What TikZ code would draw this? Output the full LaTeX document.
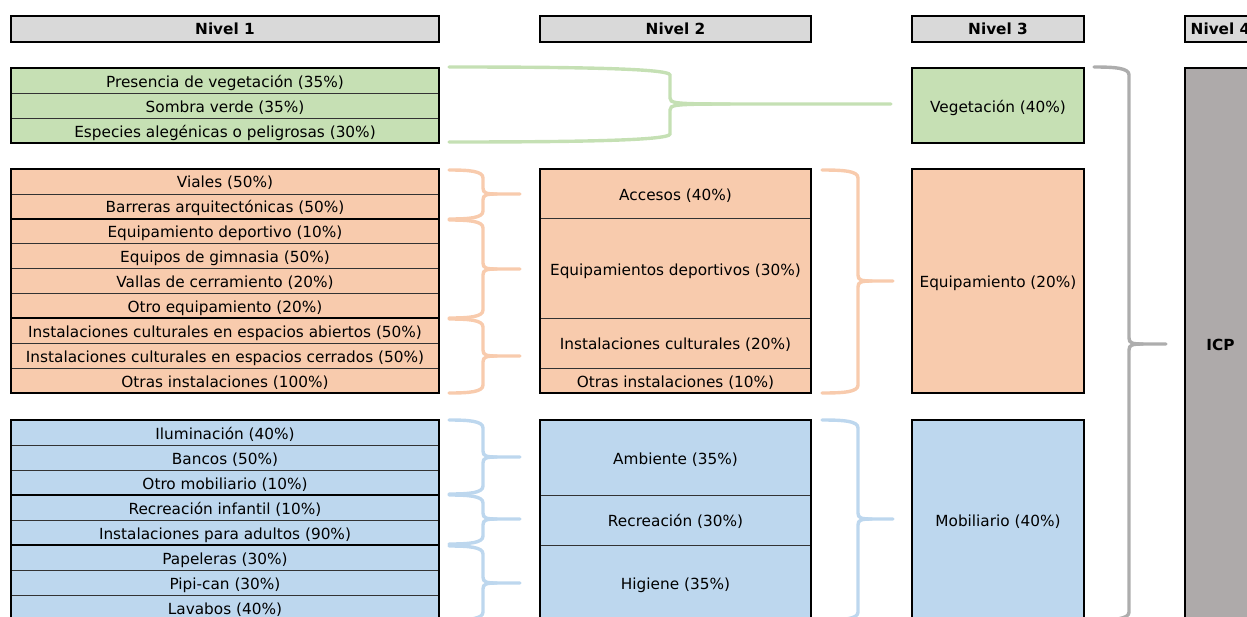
\documentclass[tikz,border=0pt]{standalone}
\usepackage{fontspec}
\setmainfont{DejaVu Sans}
\definecolor{gfill}{HTML}{C6E0B4}
\definecolor{ofill}{HTML}{F8CBAD}
\definecolor{bfill}{HTML}{BDD7EE}
\definecolor{hfill}{HTML}{D9D9D9}
\definecolor{ifill}{HTML}{AEAAAA}
\definecolor{gbr}{HTML}{C5E0B4}
\definecolor{obr}{HTML}{F8CBAD}
\definecolor{bbr}{HTML}{BDD7EE}
\definecolor{kbr}{HTML}{ADADAD}
% x0, xv, xt, ytop, ymid, ybot, colour, tip length, arm length
\newcommand{\hbrace}[9]{%
\draw[bracepath,#7] (#1,#4) .. controls ({#2-#9},#4) and (#2,{#4+1}) .. (#2,{#4+8}) -- (#2,{#5-6}) .. controls (#2,{#5-1}) and ({#2+3},#5) .. ({#2+#8},#5) -- (#3,#5);
\draw[bracepath,#7] (#1,#6) .. controls ({#2-#9},#6) and (#2,{#6-1}) .. (#2,{#6-8}) -- (#2,{#5+6}) .. controls (#2,{#5+1}) and ({#2+3},#5) .. ({#2+#8},#5);
}
\tikzset{
  txt/.style={font=\fontsize{15.3}{18}\selectfont, text=black, text height=13pt, text depth=0pt},
  cell/.style={txt, draw=black!80, line width=0.8pt, anchor=north west, inner sep=0pt, outer sep=0pt},
  wide/.style={cell, minimum width=428pt},
  mid/.style={cell, minimum width=271pt},
  lvl3/.style={cell, minimum width=172pt, draw=black, line width=2pt},
  grp/.style={draw=black, line width=2pt},
  hdr/.style={draw=black, line width=2pt, fill=hfill, anchor=north west, inner sep=0pt, outer sep=0pt,
     minimum height=26pt, font=\bfseries\fontsize{15.3}{18}\selectfont},
  bracepath/.style={line width=3.4pt, line cap=round}
}
\begin{document}
\begin{tikzpicture}[x=1pt,y=-1pt]
\useasboundingbox (0,0) rectangle (1247,616);
\clip (0,0) rectangle (1247,616);
% headers
\node[hdr, minimum width=428pt] (h1) at (11,16) {Nivel 1};
\node[hdr, minimum width=271pt] (h2) at (540,16) {Nivel 2};
\node[hdr, minimum width=172pt] (h3) at (912,16) {Nivel 3};
\node[hdr, minimum width=71pt] (h4) at (1185,16) {Nivel 4};
% level 1 green
\node[wide, fill=gfill, minimum height=25pt] (g1) at (11,68) {Presencia de vegetación (35\%)};
\node[wide, fill=gfill, minimum height=25pt] (g2) at (11,93) {Sombra verde (35\%)};
\node[wide, fill=gfill, minimum height=25pt] (g3) at (11,118) {Especies alegénicas o peligrosas (30\%)};
\draw[grp] (g1.north west) rectangle (g3.south east);
% level 1 orange
\node[wide, fill=ofill, minimum height=24.9pt] (o1) at (11,169) {Viales (50\%)};
\node[wide, fill=ofill, minimum height=24.9pt] (o2) at (11,193.9) {Barreras arquitectónicas (50\%)};
\node[wide, fill=ofill, minimum height=24.9pt] (o3) at (11,218.8) {Equipamiento deportivo (10\%)};
\node[wide, fill=ofill, minimum height=24.9pt] (o4) at (11,243.7) {Equipos de gimnasia (50\%)};
\node[wide, fill=ofill, minimum height=24.9pt] (o5) at (11,268.6) {Vallas de cerramiento (20\%)};
\node[wide, fill=ofill, minimum height=24.9pt] (o6) at (11,293.5) {Otro equipamiento (20\%)};
\node[wide, fill=ofill, minimum height=24.9pt] (o7) at (11,318.4) {Instalaciones culturales en espacios abiertos (50\%)};
\node[wide, fill=ofill, minimum height=24.9pt] (o8) at (11,343.3) {Instalaciones culturales en espacios cerrados (50\%)};
\node[wide, fill=ofill, minimum height=24.9pt] (o9) at (11,368.2) {Otras instalaciones (100\%)};
\draw[grp] (o1.north west) rectangle (o2.south east);
\draw[grp] (o3.north west) rectangle (o6.south east);
\draw[grp] (o7.north west) rectangle (o9.south east);
% level 1 blue
\node[wide, fill=bfill, minimum height=25pt] (b1) at (11,420) {Iluminación (40\%)};
\node[wide, fill=bfill, minimum height=25pt] (b2) at (11,445) {Bancos (50\%)};
\node[wide, fill=bfill, minimum height=25pt] (b3) at (11,470) {Otro mobiliario (10\%)};
\node[wide, fill=bfill, minimum height=25pt] (b4) at (11,495) {Recreación infantil (10\%)};
\node[wide, fill=bfill, minimum height=25pt] (b5) at (11,520) {Instalaciones para adultos (90\%)};
\node[wide, fill=bfill, minimum height=25pt] (b6) at (11,545) {Papeleras (30\%)};
\node[wide, fill=bfill, minimum height=25pt] (b7) at (11,570) {Pipi-can (30\%)};
\node[wide, fill=bfill, minimum height=25pt] (b8) at (11,595) {Lavabos (40\%)};
\draw[grp] (b1.north west) rectangle (b3.south east);
\draw[grp] (b4.north west) rectangle (b5.south east);
\draw[grp] (b6.north west) rectangle (b8.south east);
% level 2 orange
\node[mid, fill=ofill, minimum height=49.8pt] (m1) at (540,169) {Accesos (40\%)};
\node[mid, fill=ofill, minimum height=99.6pt] (m2) at (540,218.8) {Equipamientos deportivos (30\%)};
\node[mid, fill=ofill, minimum height=49.8pt] (m3) at (540,318.4) {Instalaciones culturales (20\%)};
\node[mid, fill=ofill, minimum height=24.9pt] (m4) at (540,368.2) {Otras instalaciones (10\%)};
\draw[grp] (m1.north west) rectangle (m4.south east);
% level 2 blue
\node[mid, fill=bfill, minimum height=75pt] (n1) at (540,420) {Ambiente (35\%)};
\node[mid, fill=bfill, minimum height=50pt] (n2) at (540,495) {Recreación (30\%)};
\node[mid, fill=bfill, minimum height=75pt] (n3) at (540,545) {Higiene (35\%)};
\draw[grp] (n1.north west) rectangle (n3.south east);
% level 3
\node[lvl3, fill=gfill, minimum height=75pt] (veg) at (912,68) {Vegetación (40\%)};
\node[lvl3, fill=ofill, minimum height=224.1pt] (equ) at (912,169) {Equipamiento (20\%)};
\node[lvl3, fill=bfill, minimum height=200pt] (mob) at (912,420) {Mobiliario (40\%)};
% level 4
\node[lvl3, fill=ifill, minimum width=71pt, minimum height=552pt, font=\bfseries\fontsize{15.3}{18}\selectfont] (icp) at (1185,68) {ICP};
% braces
\hbrace{449}{670}{891}{67}{104}{142}{gbr}{60}{110}
\hbrace{449}{483}{520}{170}{194}{219}{obr}{14}{14}
\hbrace{449}{483}{520}{220}{269}{318}{obr}{14}{14}
\hbrace{449}{483}{520}{319}{356}{393}{obr}{14}{14}
\hbrace{822}{858}{893}{170}{281}{393}{obr}{14}{14}
\hbrace{449}{483}{520}{420}{457}{494}{bbr}{14}{14}
\hbrace{449}{483}{520}{495}{519}{544}{bbr}{14}{14}
\hbrace{449}{483}{520}{546}{583}{620}{bbr}{14}{14}
\hbrace{822}{858}{893}{420}{519}{620}{bbr}{14}{14}
\hbrace{1094}{1129}{1166}{67}{344}{620}{kbr}{14}{14}
\end{tikzpicture}
\end{document}
